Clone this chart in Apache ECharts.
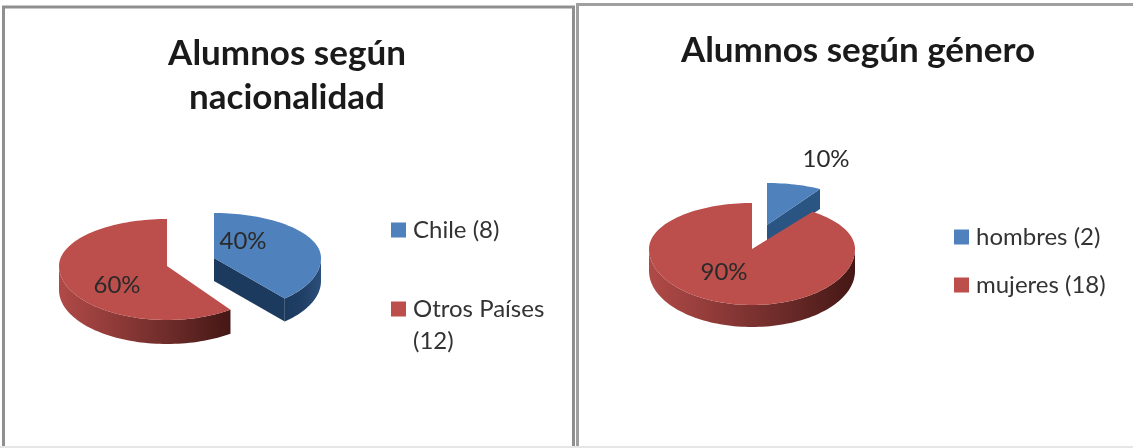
<!DOCTYPE html>
<html><head><meta charset="utf-8">
<style>html,body{margin:0;padding:0;background:#fff}#c{width:1133px;height:448px}</style>
<script src="https://cdn.jsdelivr.net/npm/echarts@6/dist/echarts.min.js"></script>
</head><body><div id="c"></div>
<script>
const natCategories = ['Chile', 'Otros Países'];
const natValues = [8, 12];
const genCategories = ['hombres', 'mujeres'];
const genValues = [2, 18];
const titles = ['Alumnos según\nnacionalidad', 'Alumnos según género'];

const FONT = 'Lato, "Open Sans", sans-serif';
const BLUE = '#4F81BD', RED = '#BC4F4C';
const chart = echarts.init(document.getElementById('c'), null, {renderer: 'canvas'});

function pt(g, deg) {
  const a = deg * Math.PI / 180, c = Math.cos(a);
  return [g.cx + g.rx * Math.sin(a), g.cy - (c > 0 ? g.ryBack : g.ryFront) * c];
}
function arc(g, from, to) {
  const out = [], n = Math.max(2, Math.ceil(Math.abs(to - from) / 2));
  for (let i = 0; i <= n; i++) out.push(pt(g, from + (to - from) * i / n));
  return out;
}
function sliceSeries(name, values, idx, g) {
  const total = values.reduce((a, b) => a + b, 0);
  const start = values.slice(0, idx).reduce((a, b) => a + b, 0) / total * 360;
  const end = start + values[idx] / total * 360;
  const pct = Math.round(values[idx] / total * 100) + '%';
  return {
    type: 'custom', name, coordinateSystem: 'none', silent: true,
    itemStyle: {color: g.color}, z: g.z,
    data: [values[idx]],
    renderItem() {
      const s = g.sweep ? start + (end - start) * g.sweep : start;
      const e = g.sweep ? start + (end - start) * g.sweep : end;
      const from = idx === 0 ? start : s, to = idx === 0 ? e : end;
      const kids = [];
      const down = p => [p[0], p[1] + g.depth];
      if (g.cutWall) {
        const p = pt(g, to), c = [g.cx, g.cy];
        kids.push({type: 'polygon', shape: {points: [c, p, down(p), down(c)]}, style: {fill: g.cut}});
      }
      const wf = Math.max(from, 90), wt = Math.min(to, 270);
      if (wt > wf) {
        const top = arc(g, wf, wt), bottom = top.map(down).reverse();
        const xs = top.map(p => p[0]);
        kids.push({type: 'polygon', shape: {points: top.concat(bottom)}, style: {
          fill: new echarts.graphic.LinearGradient(
            Math.min(...xs), 0, Math.max(...xs), 0,
            g.wall.map((c, i) => ({offset: i / (g.wall.length - 1), color: c})), true)
        }});
      }
      kids.push({type: 'polygon', shape: {points: [[g.cx, g.cy]].concat(arc(g, from, to))}, style: {fill: g.color}});
      kids.push({type: 'text', style: {text: pct, x: g.lx, y: g.ly, fill: '#2a2a2a', font: '24px ' + FONT, textAlign: 'center', textVerticalAlign: 'middle'}});
      return {type: 'group', children: kids};
    }
  };
}

const natNames = [natCategories[0] + ' (' + natValues[0] + ')', natCategories[1] + ' (' + natValues[1] + ')'];
const genNames = [genCategories[0] + ' (' + genValues[0] + ')', genCategories[1] + ' (' + genValues[1] + ')'];
const RED_WALL = ['#B04A47', '#8E3A38', '#6A2A28', '#441715'];
const BLUE_WALL = ['#1B3A5E', '#213F66', '#2B4F7A'];

const legendBase = {orient: 'vertical', icon: 'rect', itemWidth: 15, itemHeight: 15, selectedMode: false,
  textStyle: {fontFamily: FONT, fontSize: 24, color: '#333', padding: [0, 0, 0, 2]}};

chart.setOption({
  animation: false,
  backgroundColor: '#fff',
  title: [
    {text: titles[0], left: 287, top: 32, padding: 0, textAlign: 'center', textStyle: {fontFamily: FONT, fontSize: 35, fontWeight: 'bold', color: '#1a1a1a', lineHeight: 44}},
    {text: titles[1], left: 858, top: 29, padding: 0, textAlign: 'center', textStyle: {fontFamily: FONT, fontSize: 35, fontWeight: 'bold', color: '#1a1a1a', lineHeight: 44}}
  ],
  legend: [
    Object.assign({}, legendBase, {left: 386, top: 213, itemGap: 55, data: natNames,
      formatter: n => n === natNames[1] ? natCategories[1] : n}),
    Object.assign({}, legendBase, {left: 949, top: 220, itemGap: 24, data: genNames})
  ],
  graphic: [
    {type: 'rect', silent: true, z: 0, shape: {x: 3.5, y: 7, width: 570, height: 470}, style: {fill: '#fff', stroke: '#8f8f8f', lineWidth: 3}},
    {type: 'rect', silent: true, z: 0, shape: {x: 577.5, y: 4.5, width: 570, height: 470}, style: {fill: '#fff', stroke: '#a0a0a0', lineWidth: 3}},
    {type: 'text', silent: true, z: 5, style: {text: '(' + natValues[1] + ')', x: 413, y: 341, fill: '#333', font: '24px ' + FONT, textVerticalAlign: 'middle'}},
    {type: 'rect', silent: true, z: 6, shape: {x: 0, y: 446, width: 1133, height: 2}, style: {fill: '#e6e6e6'}}
  ],
  series: [
    sliceSeries(natNames[1], natValues, 1, {cx: 167, cy: 266, rx: 108, ryBack: 47, ryFront: 54, depth: 24, color: RED, wall: RED_WALL, z: 2, lx: 117, ly: 285}),
    sliceSeries(natNames[0], natValues, 0, {cx: 214, cy: 258, rx: 107, ryBack: 45, ryFront: 54, depth: 23, color: BLUE, wall: BLUE_WALL, cut: '#1B3A5E', cutWall: true, sweep: 0.9625, z: 3, lx: 243, ly: 241}),
    sliceSeries(genNames[0], genValues, 0, {cx: 767, cy: 225, rx: 103, ryBack: 42, ryFront: 50, depth: 20, color: BLUE, wall: BLUE_WALL, cut: '#2A5583', cutWall: true, sweep: 0.86, z: 2, lx: 826, ly: 159}),
    sliceSeries(genNames[1], genValues, 1, {cx: 752, cy: 249, rx: 103, ryBack: 46, ryFront: 56, depth: 22, color: RED, wall: RED_WALL, z: 3, lx: 724, ly: 272})
  ]
});
</script></body></html>
